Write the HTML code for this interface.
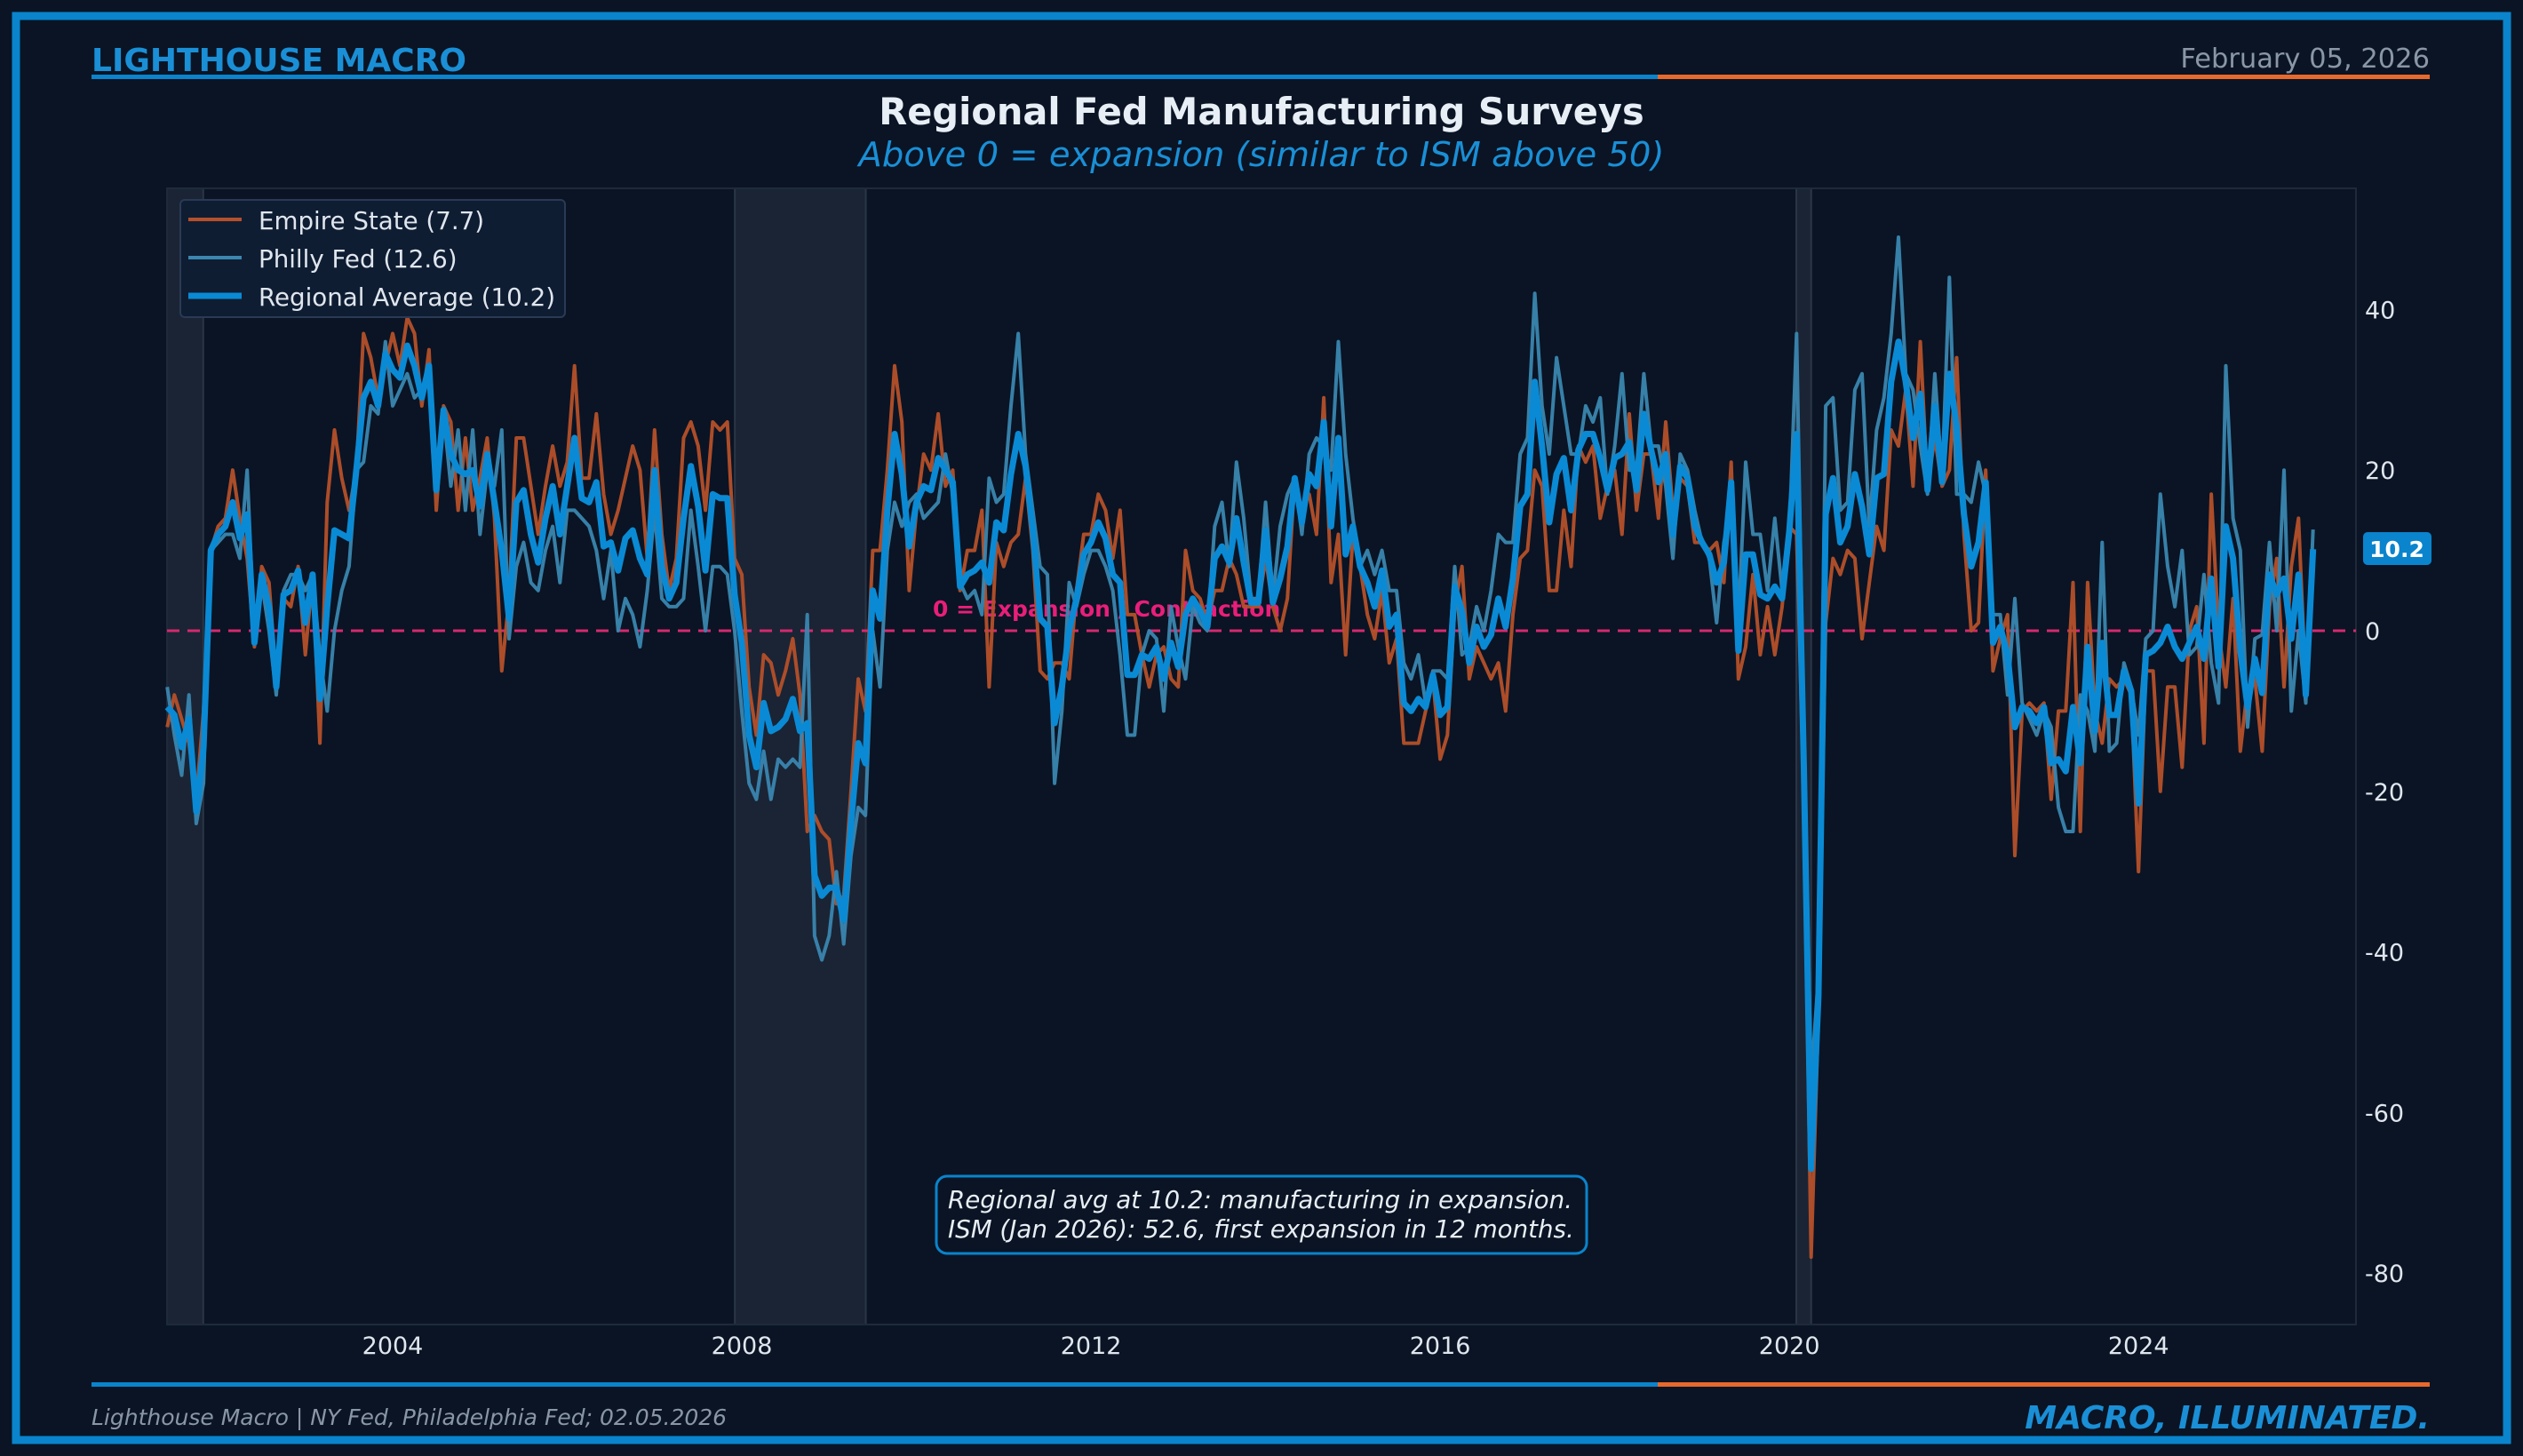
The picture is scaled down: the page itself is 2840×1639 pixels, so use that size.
<!DOCTYPE html>
<html><head><meta charset="utf-8"><style>
html,body{margin:0;padding:0;background:#0a1424;}
svg{display:block;font-family:"DejaVu Sans","Liberation Sans",sans-serif;}
</style></head><body>
<svg id="chart" width="2840" height="1639" viewBox="0 0 2840 1639" xmlns="http://www.w3.org/2000/svg">
<rect x="0" y="0" width="2840" height="1639" fill="#0a1424"/>
<rect x="18" y="18" width="2804" height="1603" fill="none" stroke="#0a84cc" stroke-width="9"/>
<text x="103" y="80" font-size="36" font-weight="bold" fill="#1a8fd6">LIGHTHOUSE MACRO</text>
<text x="2735" y="76" font-size="30.5" fill="#8a96a6" text-anchor="end">February 05, 2026</text>
<rect x="103" y="84" width="1763" height="5" fill="#0a84cc"/>
<rect x="1866" y="84" width="869" height="5" fill="#e8692c"/>
<text x="1420" y="140" font-size="41.5" font-weight="bold" fill="#e8eef5" text-anchor="middle">Regional Fed Manufacturing Surveys</text>
<text x="1420" y="187" font-size="38.5" font-style="italic" fill="#1a8fd6" text-anchor="middle">Above 0 = expansion (similar to ISM above 50)</text>
<g id="recess"></g>
<rect x="188" y="212" width="2464" height="1279" fill="none" stroke="#1e2a3a" stroke-width="2"/>
<g id="zero"></g>
<g id="series"></g>
<g id="yaxis"></g>
<g id="xaxis"></g>
<g>
<rect x="203" y="225" width="433" height="132" rx="5" fill="#0f1d33" stroke="#2a3a55" stroke-width="2"/>
<line x1="212" y1="247" x2="272" y2="247" stroke="#b5502a" stroke-width="4"/>
<text x="291" y="258" font-size="27.7" fill="#e0e6ee">Empire State (7.7)</text>
<line x1="212" y1="290" x2="272" y2="290" stroke="#3a86b0" stroke-width="4"/>
<text x="291" y="301" font-size="27.7" fill="#e0e6ee">Philly Fed (12.6)</text>
<line x1="212" y1="333" x2="272" y2="333" stroke="#0a8ad4" stroke-width="7"/>
<text x="291" y="344" font-size="27.7" fill="#e0e6ee">Regional Average (10.2)</text>
</g>
<g>
<rect x="2660" y="599" width="77" height="37" rx="5" fill="#0a84cc"/>
<text x="2698" y="627" font-size="25" font-weight="bold" fill="#ffffff" text-anchor="middle">10.2</text>
</g>
<g>
<rect x="1054" y="1324" width="732" height="87" rx="12" fill="#0a1424" stroke="#0a84cc" stroke-width="3"/>
<text x="1067" y="1360" font-size="27.7" font-style="italic" fill="#e8eef5">Regional avg at 10.2: manufacturing in expansion.</text>
<text x="1067" y="1393" font-size="27.7" font-style="italic" fill="#e8eef5">ISM (Jan 2026): 52.6, first expansion in 12 months.</text>
</g>
<rect x="103" y="1556" width="1763" height="5" fill="#0a84cc"/>
<rect x="1866" y="1556" width="869" height="5" fill="#e8692c"/>
<text x="103" y="1604" font-size="25" font-style="italic" fill="#8a96a6">Lighthouse Macro | NY Fed, Philadelphia Fed; 02.05.2026</text>
<text x="2735" y="1608" font-size="36" font-style="italic" font-weight="bold" fill="#1a8fd6" text-anchor="end">MACRO, ILLUMINATED.</text>
</svg>
<script>
// Monthly values starting June 2001
const startYear = 2001 + 5/12;
const empire = [
-12,-8,-11,-14,-21,-10,10,13,14,20,14,9,-2,8,6,-6,4,3,8,-3,
7,-14,16,25,19,15,20,37,34,29,33,37,33,39,37,28,35,15,28,26,
15,24,15,19,24,14,-5,4,24,24,18,12,18,23,18,21,33,19,19,27,
17,12,15,19,23,20,9,25,12,5,9,24,26,23,15,26,
25,26,9,7,-7,-13,-3,-4,-8,-5,-1,-8,-25,-23,-25,-26,-34,-33,-20,-6,
-10,10,10,20,33,26,5,15,22,20,27,18,20,5,10,10,15,-7,11,8,
11,12,19,10,-5,-6,-4,-4,-6,5,12,12,17,15,9,15,2,2,-3,-7,
-3,-2,-6,-7,10,5,4,1,5,5,9,7,3,3,3,9,
3,0,4,19,15,17,12,29,6,12,-3,12,8,2,-1,5,-4,-1,-14,-14,
-14,-10,-6,-16,-13,3,8,-6,-2,-4,-6,-4,-10,2,9,10,20,18,5,5,
15,8,23,21,23,14,18,20,12,27,15,22,22,14,26,15,19,18,11,11,
10,11,6,21,-6,-2,7,-3,3,-3,3,13,
12,-21,-78,-48,1,9,7,10,9,-1,6,13,10,25,23,30,18,36,18,24,
18,20,34,12,0,1,20,-5,-1,2,-28,-10,-9,-10,-9,-21,-10,-10,6,-25,
6,-10,-14,-6,-7,-6,-8,-30,-5,-5,-20,-7,-7,-17,0,3,-14,17,0,-7,
4,-15,-7,-6,-15,3,9,-7,8,14,-7,7.7
];
const philly = [
-7,-13,-18,-8,-24,-19,10,11,12,12,9,20,-1,6,0,-8,5,7,7,5,
7,-3,-10,0,5,8,20,21,28,27,36,28,30,32,29,30,31,20,27,18,
25,15,25,12,20,18,25,-1,8,11,6,5,10,13,6,15,15,14,13,10,
4,10,0,4,2,-2,5,15,4,3,3,4,15,8,0,8,
8,7,0,-10,-19,-21,-15,-21,-16,-17,-16,-17,2,-38,-41,-38,-30,-39,-28,-22,
-23,0,-7,10,16,13,16,17,14,15,16,22,17,6,4,5,2,19,16,17,
28,37,22,15,8,7,-19,-10,6,3,7,10,10,8,5,-3,-13,-13,-3,0,
-1,-10,3,-2,-6,3,1,0,13,16,8,21,14,4,4,16,
4,13,17,19,12,22,24,23,20,36,22,14,8,10,7,10,5,5,-4,-6,
-3,-9,-5,-5,-6,8,-3,-2,3,0,5,12,11,11,22,24,42,28,22,34,
28,22,22,28,26,29,17,23,32,20,20,32,23,23,18,9,22,20,15,11,
9,1,11,16,1,21,12,12,5,14,5,12,
37,-13,-56,-43,28,29,15,16,30,32,13,25,29,37,49,32,30,23,17,32,
19,44,17,17,16,21,17,2,2,-8,4,-9,-11,-13,-10,-12,-22,-25,-25,-8,
-10,-15,11,-15,-14,-4,-7,-13,-1,0,17,8,3,10,-3,-2,7,-4,-9,33,
14,10,-12,-1,-0.5,11,0,20,-10,0,-9,12.6
];
const yTicks = [40,20,0,-20,-40,-60,-80];
const xTicks = [2004,2008,2012,2016,2020,2024];
const recessionStarts = [2001.17, 2007.92, 2020.08];
const recessionEnds = [2001.83, 2009.42, 2020.25];

const NS = "http://www.w3.org/2000/svg";
const PL = 188, PR = 2652, PT = 212, PB = 1491;
function xs(year){ return 442 + (year - 2004) * 98.26; }
function ys(v){ return 710 - v * 9.04; }
function mk(tag, attrs, parent){
  const e = document.createElementNS(NS, tag);
  for (const k in attrs) e.setAttribute(k, attrs[k]);
  parent.appendChild(e); return e;
}
const rg = document.getElementById('recess');
for (let i = 0; i < recessionStarts.length; i++){
  const x0 = Math.max(PL, xs(recessionStarts[i])), x1 = xs(recessionEnds[i]);
  const r = mk('rect', {x:x0, y:PT, width:x1-x0, height:PB-PT, fill:'#1a2434', stroke:'#2a3646', 'stroke-width':2}, rg);
  
  
}
const zg = document.getElementById('zero');
const zl = mk('line', {x1:PL, x2:PR, y1:ys(0), y2:ys(0), stroke:'#d6286e', 'stroke-width':3, 'stroke-dasharray':'14,9'}, zg);


const zt = mk('text', {x:1050, y:ys(0)-16, 'font-size':25, 'font-weight':'bold', fill:'#e91e7a'}, zg);
zt.textContent = '0 = Expansion / Contraction';



function pathFor(arr){
  return arr.map((v,i)=>(i?'L':'M')+xs(startYear+i/12).toFixed(1)+','+ys(v).toFixed(1)).join('');
}
const average = empire.map((v,i)=>(v+philly[i])/2);
const sg = document.getElementById('series');
const pe = mk('path', {d:pathFor(empire), fill:'none', stroke:'#b5502a', 'stroke-width':4, 'stroke-linejoin':'round', opacity:0.95}, sg);


const pp = mk('path', {d:pathFor(philly), fill:'none', stroke:'#3a86b0', 'stroke-width':4, 'stroke-linejoin':'round', opacity:0.95}, sg);


const pa = mk('path', {d:pathFor(average), fill:'none', stroke:'#0a8ad4', 'stroke-width':7, 'stroke-linejoin':'round'}, sg);



const yg = document.getElementById('yaxis');
yTicks.forEach(t=>{
  const tx = mk('text', {x:2662, y:ys(t)+10, 'font-size':27, fill:'#e0e6ee'}, yg);
  tx.textContent = String(t);
  
  
});
const xg = document.getElementById('xaxis');
xTicks.forEach(t=>{
  const tx = mk('text', {x:xs(t), y:1524, 'font-size':27, fill:'#e0e6ee', 'text-anchor':'middle'}, xg);
  tx.textContent = String(t);
  
  
});
</script>
</body></html>
